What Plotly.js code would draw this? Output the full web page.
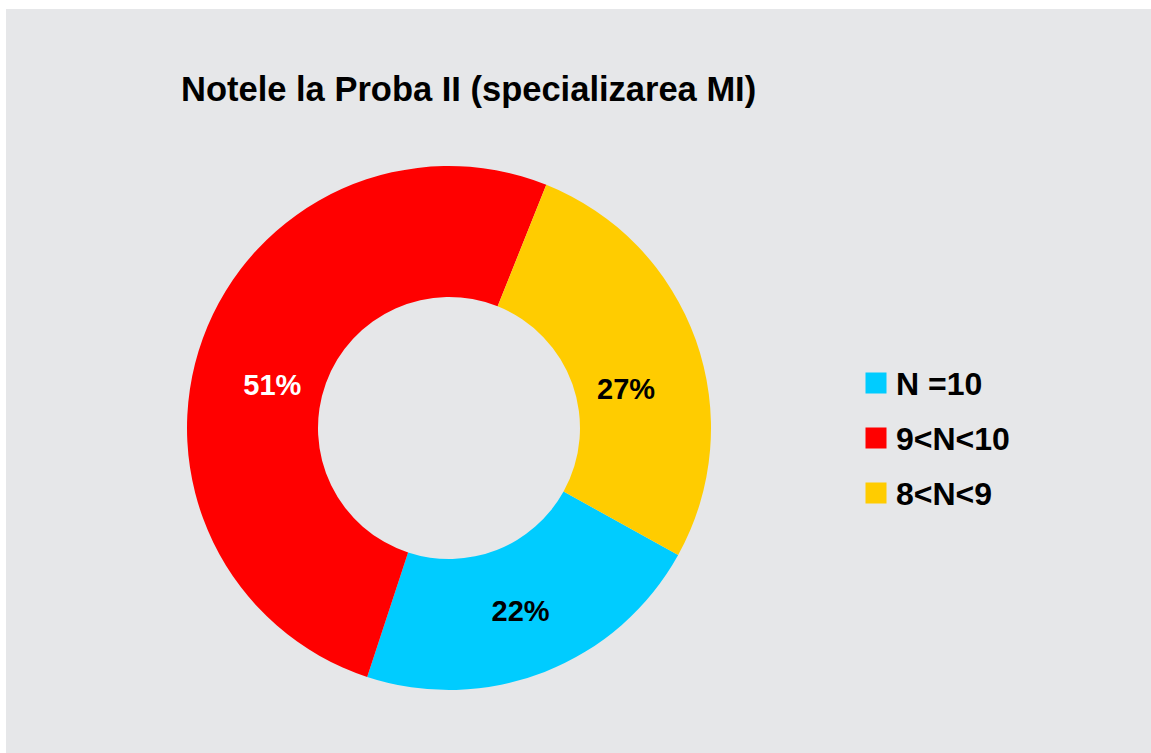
<!DOCTYPE html>
<html>
<head>
<meta charset="utf-8">
<script src="https://cdn.plot.ly/plotly-3.0.1.min.js"></script>
<style>
  html, body { margin: 0; padding: 0; background: #ffffff; }
  #chart { position: absolute; left: 6px; top: 9px; width: 1145px; height: 744px; }
  .legendpie { transform: translate(20px, 0px) scale(1.75); }
  .legendtext { transform: translate(0px, -4px); }
</style>
</head>
<body>
<div id="chart"></div>
<script>
const categories = ["N =10", "9<N<10", "8<N<9"];
const values = [22, 51, 27];
const sliceColors = ["#00ccff", "#ff0000", "#ffcc00"];
const textColors = ["#000000", "#ffffff", "#000000"];
const chartTitle = "Notele la Proba II (specializarea MI)";

const W = 1145, H = 744;
const FONT = "Arial, 'Liberation Sans', Helvetica, sans-serif";
const NB = "\u00a0";

const trace = {
  type: "pie",
  labels: categories.map(c => '<span style="font-size:32px">' + c.replace(/</g, "&lt;") + '</span>'),
  values: values,
  hole: 0.5,
  sort: false,
  direction: "clockwise",
  rotation: 119,
  textinfo: "percent",
  texttemplate: [
    "%{percent}",
    '<span style="font-size:40px">' + NB + "</span><br>" + NB + NB + "%{percent}",
    '<span style="font-size:47px">' + NB + "</span><br>%{percent}" + NB + NB
  ],
  textposition: "inside",
  insidetextorientation: "horizontal",
  insidetextfont: { family: FONT, size: 29, color: textColors, weight: 700 },
  marker: { colors: sliceColors, line: { width: 0 } },
  domain: { x: [181 / W, 705 / W], y: [63 / H, 587 / H] },
  hoverinfo: "label+percent"
};

const layout = {
  width: W,
  height: H,
  margin: { l: 0, r: 0, t: 0, b: 0 },
  paper_bgcolor: "#e6e7e9",
  plot_bgcolor: "#e6e7e9",
  title: {
    text: chartTitle,
    font: { family: FONT, size: 34.5, color: "#000000", weight: 700 },
    x: 175 / W,
    xref: "paper",
    xanchor: "left",
    y: 1 - 80 / H,
    yanchor: "middle"
  },
  showlegend: true,
  legend: {
    x: 850 / W,
    xanchor: "left",
    y: 1 - 429 / H,
    yanchor: "middle",
    bgcolor: "rgba(0,0,0,0)",
    borderwidth: 0,
    font: { family: FONT, size: 40, color: "#000000", weight: 700 }
  }
};

Plotly.newPlot("chart", [trace], layout, { displayModeBar: false });
</script>
</body>
</html>
